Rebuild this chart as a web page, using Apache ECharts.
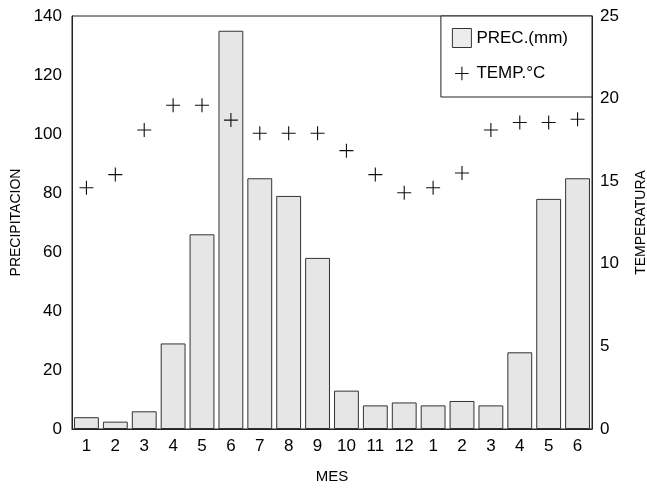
<!DOCTYPE html>
<html>
<head>
<meta charset="utf-8">
<script src="https://cdn.jsdelivr.net/npm/echarts@6/dist/echarts.min.js"></script>
<style>html,body{margin:0;padding:0;background:#fff}#c{width:647px;height:491px}</style>
</head>
<body>
<div id="c"></div>
<script>
var months = ['1','2','3','4','5','6','7','8','9','10','11','12','1','2','3','4','5','6'];
var precipitation = [4, 2.5, 6, 29, 66, 135, 85, 79, 58, 13, 8, 9, 8, 9.5, 8, 26, 78, 85];
var temperature = [14.6, 15.4, 18.1, 19.6, 19.6, 18.7, 17.9, 17.9, 17.9, 16.85, 15.4, 14.3, 14.6, 15.5, 18.1, 18.55, 18.55, 18.75];
var precTicks = [0, 140, 20];
var tempTicks = [0, 25, 5];

var font = 'Liberation Sans, Arial, Helvetica, sans-serif';
var plus = 'path://M9.2,0h1.6v9.2h9.2v1.6h-9.2v9.2h-1.6v-9.2h-9.2v-1.6h9.2z';
var plusLegend = 'path://M0,0h0.01v0.01h-0.01z M27.99,27.99h0.01v0.01h-0.01z M13.2,4h1.6v9.2h9.2v1.6h-9.2v9.2h-1.6v-9.2h-9.2v-1.6h9.2z';
var chart = echarts.init(document.getElementById('c'));
chart.setOption({
  animation: false,
  backgroundColor: '#fff',
  grid: {left: 72, right: 55, top: 16, bottom: 62, outerBoundsMode: 'none', containLabel: false,
         show: true, borderColor: '#222', borderWidth: 1, backgroundColor: 'transparent'},
  legend: {
    orient: 'vertical', right: 55, top: 16,
    backgroundColor: '#fff',
    borderColor: '#222', borderWidth: 1,
    padding: [12, 24, 14, 11], itemGap: 16,
    itemWidth: 19, itemHeight: 19,
    textStyle: {fontFamily: font, fontSize: 17, color: '#000'},
    data: [
      {name: 'PREC.(mm)', icon: 'rect', itemStyle: {color: '#ececec', borderColor: '#333', borderWidth: 1}},
      {name: 'TEMP.°C', icon: plusLegend, itemStyle: {color: '#111'}}
    ]
  },
  xAxis: {
    type: 'category', data: months,
    name: 'MES', nameLocation: 'middle', nameGap: 40,
    nameTextStyle: {fontFamily: font, fontSize: 15, color: '#000'},
    axisLine: {lineStyle: {color: '#222'}},
    axisTick: {show: false},
    axisLabel: {fontFamily: font, fontSize: 17, color: '#000', margin: 9, interval: 0}
  },
  yAxis: [{
    type: 'value', min: precTicks[0], max: precTicks[1], interval: precTicks[2],
    name: 'PRECIPITACION', nameLocation: 'middle', nameGap: 42, nameRotate: 90,
    nameTextStyle: {fontFamily: font, fontSize: 14, color: '#000'},
    axisLine: {show: true, lineStyle: {color: '#222'}},
    axisTick: {show: false},
    splitLine: {show: false},
    axisLabel: {fontFamily: font, fontSize: 17, color: '#000', margin: 10}
  }, {
    type: 'value', min: tempTicks[0], max: tempTicks[1], interval: tempTicks[2],
    name: 'TEMPERATURA', nameLocation: 'middle', nameGap: 42, nameRotate: 90,
    nameTextStyle: {fontFamily: font, fontSize: 14, color: '#000'},
    axisLine: {show: true, lineStyle: {color: '#222'}},
    axisTick: {show: false},
    splitLine: {show: false},
    axisLabel: {fontFamily: font, fontSize: 17, color: '#000', margin: 8}
  }],
  series: [{
    name: 'PREC.(mm)', type: 'bar', yAxisIndex: 0, data: precipitation,
    barCategoryGap: '14%',
    itemStyle: {color: '#e6e6e6', borderColor: '#333', borderWidth: 1}
  }, {
    name: 'TEMP.°C', type: 'scatter', yAxisIndex: 1, data: temperature,
    symbol: plus, symbolSize: 14,
    itemStyle: {color: '#111', opacity: 1}
  }]
});
</script>
</body>
</html>
